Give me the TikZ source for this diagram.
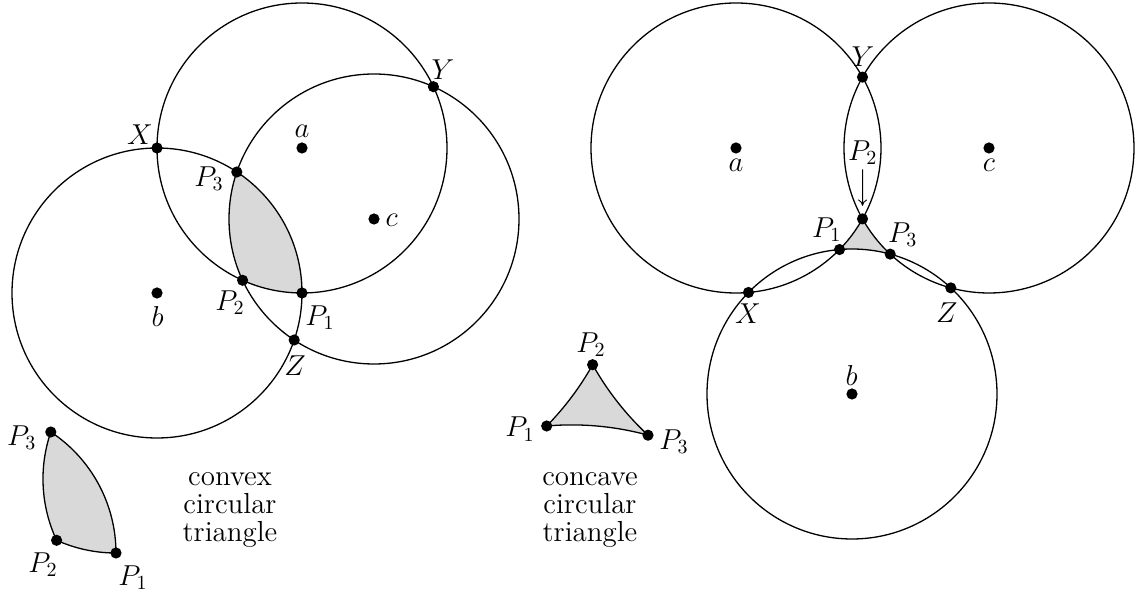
\documentclass[tikz,border=0pt]{standalone}
\usetikzlibrary{arrows.meta}
\begin{document}
\begin{tikzpicture}[x=0.5pt,y=-0.5pt,
  circ/.style={line width=0.65pt},
  dot/.style={circle,fill=black,inner sep=0pt,minimum size=5.6pt},
  lbl/.style={inner sep=0pt,font=\fontsize{14.5}{14.5}\selectfont},
  caption/.style={inner sep=0pt,align=center,font=\fontsize{14.5}{13.9}\selectfont},
  shadefill/.style={fill=black!15},
  arr/.style={line width=0.45pt,-{To[length=3.2pt,width=4.5pt]}}]
\useasboundingbox (0,0) rectangle (1137,592);
\def\R{145}
% ---------- left figure: convex ----------
\coordinate (ca) at (302,148);
\coordinate (cb) at (157,293);
\coordinate (cc) at (374,219);
\begin{scope}
  \clip (ca) circle[radius=\R];
  \clip (cb) circle[radius=\R];
  \fill[shadefill] (cc) circle[radius=\R];
\end{scope}
\draw[circ] (ca) circle[radius=\R];
\draw[circ] (cb) circle[radius=\R];
\draw[circ] (cc) circle[radius=\R];
\node[dot] (la) at (ca) {};
\node[dot] (lb) at (cb) {};
\node[dot] (lc) at (cc) {};
\node[dot] (lX) at (157,148) {};
\node[dot] (lY) at (433.4,86.7) {};
\node[dot] (lZ) at (294.2,340.0) {};
\node[dot] (lP1) at (302,293) {};
\node[dot] (lP2) at (242.6,280.3) {};
\node[dot] (lP3) at (236.8,172.0) {};
\node[lbl] (tla) at (302,131) {$a$};
\node[lbl] (tlb) at (157.7,316.7) {$b$};
\node[lbl] (tlc) at (391.7,220) {$c$};
\node[lbl] (tlX) at (140,135) {$X$};
\node[lbl] (tlY) at (443,70) {$Y$};
\node[lbl] (tlZ) at (295,366) {$Z$};
\node[lbl] (tlP1) at (320,318) {$P_1$};
\node[lbl] (tlP2) at (230,302.7) {$P_2$};
\node[lbl] (tlP3) at (209,179) {$P_3$};
% small convex triangle
\begin{scope}[shift={(-186,260)}]
  \path[shadefill,draw=black,line width=0.65pt] (242.6,280.3)
    arc[start angle=114.18, end angle=90, radius=\R]
    arc[start angle=0, end angle=-56.6, radius=\R]
    arc[start angle=198.9, end angle=155.0, radius=\R] -- cycle;
  \node[dot] (sP1) at (302,293) {};
  \node[dot] (sP2) at (242.6,280.3) {};
  \node[dot] (sP3) at (236.8,172.0) {};
\end{scope}
\node[lbl] (tsP3) at (21.7,438) {$P_3$};
\node[lbl] (tsP2) at (43,565) {$P_2$};
\node[lbl] (tsP1) at (133,578) {$P_1$};
\node[caption] (cap1) at (230,510) {convex\\circular\\triangle};
% ---------- right figure: concave ----------
\coordinate (ra) at (736,148);
\coordinate (rb) at (852,394);
\coordinate (rc) at (989,148);
\fill[shadefill] (839.51,249.54)
  arc[start angle=44.45, end angle=29.27, radius=\R]
  arc[start angle=150.73, end angle=132.96, radius=\R]
  arc[start angle=-74.73, end angle=-94.94, radius=\R] -- cycle;
\draw[circ] (ra) circle[radius=\R];
\draw[circ] (rb) circle[radius=\R];
\draw[circ] (rc) circle[radius=\R];
\node[dot] (rda) at (ra) {};
\node[dot] (rdb) at (rb) {};
\node[dot] (rdc) at (rc) {};
\node[dot] (rX) at (748.49,292.46) {};
\node[dot] (rY) at (862.5,77.13) {};
\node[dot] (rZ) at (950.81,287.88) {};
\node[dot] (rP1) at (839.51,249.54) {};
\node[dot] (rP2) at (862.5,218.87) {};
\node[dot] (rP3) at (890.19,254.12) {};
\node[lbl] (tra) at (736,165) {$a$};
\node[lbl] (trb) at (851.7,376) {$b$};
\node[lbl] (trc) at (989,165) {$c$};
\node[lbl] (trX) at (748,314) {$X$};
\node[lbl] (trY) at (863,57) {$Y$};
\node[lbl] (trZ) at (946.7,312.7) {$Z$};
\node[lbl] (trP1) at (826.7,230) {$P_1$};
\node[lbl] (trP2) at (862.7,153) {$P_2$};
\node[lbl] (trP3) at (902.7,235) {$P_3$};
\draw[arr,shorten <=2pt,shorten >=3.5pt] (trP2.south) -- (rP2.north);
% small concave triangle
\path[shadefill,draw=black,line width=0.65pt] (546.7,426)
  arc[start angle=44.45, end angle=29.27, radius=290]
  arc[start angle=150.73, end angle=132.96, radius=290]
  arc[start angle=-74.73, end angle=-94.94, radius=290] -- cycle;
\node[dot] (cP1) at (546.7,426) {};
\node[dot] (cP2) at (592.6,364.7) {};
\node[dot] (cP3) at (648.0,435.2) {};
\node[lbl] (tcP2) at (591,345) {$P_2$};
\node[lbl] (tcP1) at (520,429.3) {$P_1$};
\node[lbl] (tcP3) at (674,441.7) {$P_3$};
\node[caption] (cap2) at (590,510) {concave\\circular\\triangle};
\end{tikzpicture}
\end{document}
